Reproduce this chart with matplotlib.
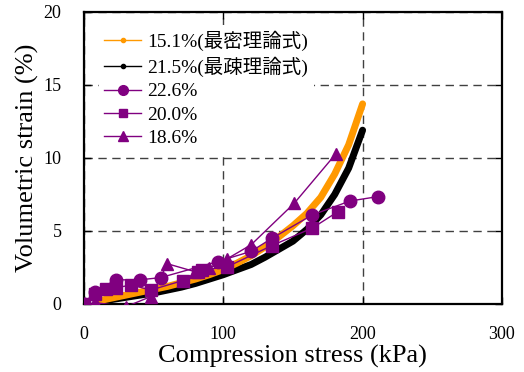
import matplotlib
matplotlib.use("Agg")
import matplotlib.pyplot as plt
from matplotlib.lines import Line2D

plt.rcParams['font.family'] = ['Liberation Serif', 'Noto Sans CJK JP']

# theoretical curves (densest / loosest packing)
theory_x = [10, 20, 30, 40, 50, 60, 70, 80, 90, 100, 110, 120, 130, 140,
            150, 160, 170, 180, 190, 200]
dense_y = [0.2, 0.4, 0.6, 0.8, 1.0, 1.2, 1.45, 1.7, 2.0, 2.35, 2.8, 3.3,
           3.9, 4.6, 5.35, 6.2, 7.3, 8.9, 10.9, 13.7]
loose_y = [0.15, 0.3, 0.45, 0.6, 0.75, 0.95, 1.15, 1.4, 1.7, 2.0, 2.35, 2.7,
           3.2, 3.75, 4.3, 5.1, 6.1, 7.5, 9.3, 11.9]

# measured series
s226_x = [0, 8, 23, 40, 55, 96, 120, 135, 164, 191, 211]
s226_y = [0, 0.85, 1.65, 1.65, 1.8, 2.9, 3.6, 4.5, 6.1, 7.05, 7.35]
s200_x = [0, 8, 16, 23, 34, 48, 71, 82, 85, 103, 135, 164, 182]
s200_y = [0, 0.7, 1.0, 1.1, 1.3, 0.95, 1.6, 2.2, 2.3, 2.55, 4.0, 5.2, 6.3]
s186_x = [8, 30, 48, 60, 80, 90, 103, 120, 151, 181]
s186_y = [0.1, -0.2, 0.5, 2.75, 2.2, 2.45, 3.1, 4.05, 6.9, 10.3]

labels = ["15.1%(最密理論式)", "21.5%(最疎理論式)", "22.6%", "20.0%", "18.6%"]

orange = "#FF9900"
purple = "#800080"

fig = plt.figure(figsize=(5.24, 3.72), dpi=100)
ax = fig.add_axes([0.160, 0.183, 0.798, 0.785])

ax.plot(theory_x, dense_y, color=orange, lw=5, solid_capstyle='round', zorder=3)
ax.plot(theory_x, loose_y, color='black', lw=5, solid_capstyle='round', zorder=2)
ax.plot(s226_x, s226_y, color=purple, lw=1, marker='o', ms=9, zorder=4)
ax.plot(s200_x, s200_y, color=purple, lw=1, marker='s', ms=8, zorder=4)
ax.plot(s186_x, s186_y, color=purple, lw=1, marker='^', ms=9, zorder=4)

ax.set_xlim(0, 300)
ax.set_ylim(0, 20)
ax.set_xticks([0, 100, 200, 300])
ax.set_yticks([0, 5, 10, 15, 20])
ax.grid(True, color='#404040', linestyle=(0, (6, 4)), linewidth=1)
ax.set_axisbelow(True)
ax.tick_params(direction='in', length=5, width=1, labelsize=13,
               top=True, right=True)
ax.tick_params(axis='x', pad=16)
ax.tick_params(axis='y', pad=16)
for sp in ax.spines.values():
    sp.set_linewidth(1.6)

ax.set_xlabel("Compression stress (kPa)", fontsize=19, labelpad=1)
ax.set_ylabel("Volumetric strain (%)", fontsize=19, labelpad=3)

handles = [
    Line2D([], [], color=orange, lw=1, marker='o', ms=3),
    Line2D([], [], color='black', lw=1, marker='o', ms=3),
    Line2D([], [], color=purple, lw=1, marker='o', ms=7),
    Line2D([], [], color=purple, lw=1, marker='s', ms=6),
    Line2D([], [], color=purple, lw=1, marker='^', ms=7),
]
leg = ax.legend(handles, labels, loc='upper left', bbox_to_anchor=(0.012, 0.99),
                fontsize=14, frameon=True, framealpha=1, edgecolor='none',
                facecolor='white', handlelength=1.9, handletextpad=0.3,
                labelspacing=0.3, borderpad=0.3, fancybox=False)
leg.set_zorder(5)

fig.savefig("out.png", dpi=100)
